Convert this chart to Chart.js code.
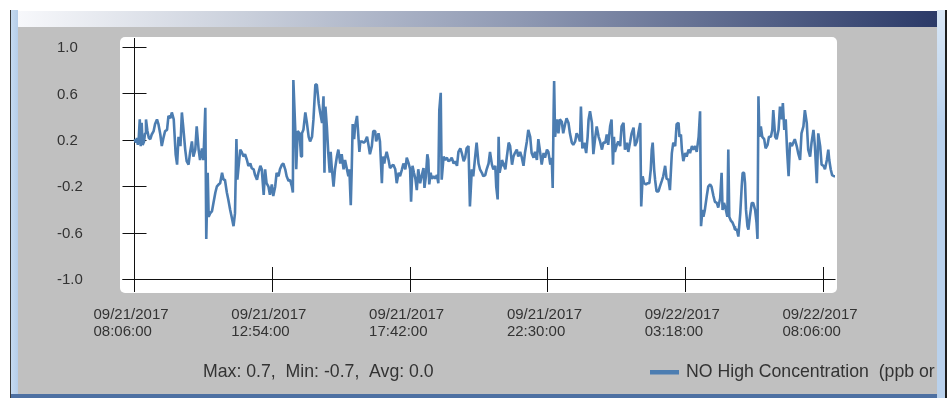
<!DOCTYPE html>
<html>
<head>
<meta charset="utf-8">
<script src="https://cdn.jsdelivr.net/npm/chart.js@4/dist/chart.umd.min.js"></script>
<style>
  html, body { margin: 0; padding: 0; background: #ffffff; }
  body { position: relative; width: 951px; height: 398px; overflow: hidden; }
  .box { position: absolute; }
  #panelGray { left: 18px; top: 27px; width: 919px; height: 367px; background: #c0c0c0; }
  #titleBar { left: 18px; top: 11px; width: 919px; height: 16px;
              background: linear-gradient(to right, #f7f8fb 0%, #c9cfdb 25%, #8e98b2 55%, #2b3a68 100%); }
  #leftEdge { left: 10px; top: 10px; width: 1px; height: 388px; background: #3a3a3a; z-index: 3; }
  #leftStrip { left: 11px; top: 10px; width: 7px; height: 388px; background: linear-gradient(to right, #c5daf0, #b5cde9); z-index: 3; }
  #rightStrip { left: 937px; top: 10px; width: 8px; height: 388px; background: linear-gradient(to bottom, #d9e7f6, #b9d1ec 30%, #b9d1ec); z-index: 3; }
  #rightEdge { left: 945px; top: 10px; width: 2px; height: 388px; background: #1e1e1e; z-index: 3; }
  #bottomLine { left: 11px; top: 394px; width: 926px; height: 4px; background: #4d70a2; z-index: 3; }
  #chart { position: absolute; left: 0; top: 0; z-index: 2; }
</style>
</head>
<body>
<div class="box" id="panelGray"></div>
<div class="box" id="titleBar"></div>
<canvas id="chart" width="951" height="398"></canvas>
<div class="box" id="leftEdge"></div>
<div class="box" id="leftStrip"></div>
<div class="box" id="rightStrip"></div>
<div class="box" id="rightEdge"></div>
<div class="box" id="bottomLine"></div>
<script>
// NO high-range concentration, minutes after 09/21/2017 08:06:00
const minutesFromStart = [
  0, 3, 5, 7, 9, 11, 13, 15, 17, 20,
  22, 24, 27, 30, 33, 36, 40, 43, 47, 50,
  54, 57, 61, 64, 68, 71, 75, 78, 82, 84,
  86, 89, 92, 96, 99, 102, 106, 109, 113, 116,
  120, 123, 127, 130, 134, 137, 141, 144, 148, 150,
  153, 155, 158, 162, 165, 169, 172, 176, 179, 183,
  186, 189, 193, 196, 200, 203, 207, 210, 213, 215,
  217, 221, 224, 228, 231, 235, 238, 242, 245, 249,
  252, 256, 259, 263, 266, 270, 273, 276, 280, 283,
  287, 290, 294, 297, 301, 304, 308, 311, 315, 318,
  322, 325, 329, 331, 332, 336, 338, 341, 345, 348,
  350, 353, 357, 360, 364, 367, 371, 374, 378, 381,
  385, 388, 392, 395, 397, 399, 402, 405, 408, 410,
  412, 416, 419, 423, 426, 430, 433, 437, 440, 444,
  447, 449, 452, 454, 456, 459, 461, 465, 467, 470,
  472, 475, 479, 482, 486, 489, 492, 496, 499, 503,
  505, 508, 510, 513, 517, 519, 522, 524, 527, 531,
  534, 538, 541, 545, 548, 552, 555, 559, 562, 566,
  569, 573, 576, 578, 581, 584, 587, 590, 593, 597,
  600, 604, 606, 609, 612, 614, 616, 619, 621, 625,
  628, 632, 635, 637, 640, 642, 646, 649, 653, 656,
  660, 663, 667, 670, 674, 677, 681, 684, 688, 691,
  694, 698, 701, 705, 708, 712, 715, 719, 722, 726,
  729, 733, 736, 740, 743, 747, 750, 754, 756, 759,
  761, 763, 766, 768, 771, 775, 778, 782, 785, 789,
  792, 795, 799, 802, 806, 809, 813, 816, 820, 823,
  827, 830, 834, 837, 841, 844, 848, 851, 855, 858,
  862, 865, 869, 872, 874, 876, 877, 879, 883, 886,
  889, 893, 896, 900, 903, 907, 910, 914, 917, 921,
  924, 928, 931, 933, 936, 940, 944, 947, 949, 952,
  956, 959, 963, 966, 970, 973, 977, 980, 984, 987,
  990, 994, 997, 1000, 1002, 1004, 1008, 1011, 1015, 1018,
  1022, 1025, 1029, 1032, 1036, 1039, 1043, 1046, 1050, 1053,
  1057, 1059, 1062, 1065, 1069, 1072, 1076, 1079, 1081, 1083,
  1086, 1088, 1091, 1095, 1098, 1102, 1105, 1109, 1112, 1116,
  1119, 1123, 1126, 1130, 1133, 1137, 1139, 1142, 1144, 1147,
  1151, 1154, 1158, 1161, 1165, 1168, 1172, 1175, 1179, 1182,
  1184, 1187, 1189, 1192, 1196, 1199, 1203, 1206, 1210, 1213,
  1217, 1220, 1224, 1227, 1229, 1232, 1236, 1239, 1241, 1243,
  1246, 1250, 1253, 1255, 1259, 1262, 1266, 1269, 1271, 1274,
  1276, 1278, 1281, 1283, 1286, 1290, 1293, 1297, 1300, 1302,
  1304, 1306, 1309, 1312, 1316, 1319, 1323, 1326, 1330, 1333,
  1335, 1339, 1342, 1346, 1349, 1353, 1355, 1358, 1361, 1364,
  1367, 1370, 1374, 1377, 1380, 1384, 1387, 1391, 1394, 1398,
  1401, 1405, 1408, 1412, 1415, 1419, 1422, 1426, 1429, 1433,
  1436, 1440, 1443, 1447, 1450, 1452, 1455, 1458, 1462, 1464
];

const noHighPpb = [
  0.21, 0.18, 0.22, 0.16, 0.23, 0.38, 0.15, 0.35, 0.16, 0.19,
  0.26, 0.38, 0.28, 0.22, 0.21, 0.25, 0.28, 0.34, 0.38, 0.34,
  0.25, 0.15, 0.23, 0.28, 0.29, 0.41, 0.39, 0.44, 0.38, 0.23,
  0.08, -0.01, 0.23, 0.15, 0.44, 0.31, 0.12, 0.02, -0.01, 0.09,
  0.19, 0.06, 0.12, 0.32, 0.12, 0.03, 0.13, 0.03, 0.48, -0.65,
  -0.08, -0.46, -0.43, -0.41, -0.34, -0.25, -0.20, -0.18, -0.17, -0.08,
  -0.14, -0.14, -0.25, -0.31, -0.40, -0.46, -0.54, -0.43, 0.21, -0.14,
  -0.05, 0.12, 0.10, 0.06, 0.08, 0.03, -0.02, 0.00, -0.04, -0.05,
  -0.10, -0.14, -0.08, -0.02, -0.05, -0.27, -0.05, -0.17, -0.20, -0.27,
  -0.18, -0.28, -0.20, -0.08, -0.11, -0.05, -0.01, 0.00, -0.05, -0.11,
  -0.15, -0.14, -0.20, -0.25, 0.72, 0.29, -0.05, 0.28, 0.26, 0.06,
  0.26, 0.29, 0.44, 0.36, 0.23, 0.19, 0.23, 0.38, 0.68, 0.68,
  0.52, 0.44, 0.35, 0.58, -0.08, 0.49, 0.32, 0.09, -0.08, 0.10,
  -0.02, -0.20, -0.05, 0.06, 0.12, 0.00, 0.08, -0.05, 0.03, -0.05,
  -0.11, -0.05, -0.36, -0.05, 0.34, 0.21, 0.32, 0.41, 0.29, 0.10,
  0.19, 0.19, 0.18, 0.19, 0.23, 0.16, 0.08, 0.15, 0.28, 0.28,
  0.19, 0.23, 0.26, 0.19, -0.17, 0.06, 0.00, 0.05, 0.10, 0.03,
  -0.04, -0.02, -0.01, -0.05, -0.17, -0.08, -0.11, -0.05, 0.00, -0.05,
  0.05, 0.00, -0.05, -0.33, -0.02, -0.08, -0.13, -0.23, -0.05, -0.17,
  -0.11, -0.04, -0.21, -0.11, 0.08, 0.03, -0.18, -0.08, -0.13, -0.11,
  -0.13, -0.10, -0.17, 0.46, 0.61, -0.14, 0.06, 0.03, 0.05, 0.02,
  0.03, 0.05, 0.00, 0.02, -0.02, 0.10, 0.13, 0.09, 0.02, 0.05,
  0.13, 0.15, -0.37, -0.05, -0.11, 0.06, 0.18, 0.00, -0.05, -0.08,
  -0.11, -0.10, -0.05, 0.00, 0.10, -0.01, -0.05, -0.02, -0.20, -0.31,
  0.23, -0.08, -0.02, 0.03, 0.00, -0.05, 0.05, 0.18, 0.15, -0.01,
  0.06, 0.09, 0.12, 0.06, 0.10, 0.06, -0.02, 0.09, 0.19, 0.29,
  0.23, 0.09, 0.05, 0.10, 0.03, 0.21, 0.09, -0.01, 0.09, 0.05,
  0.12, 0.10, -0.01, 0.05, -0.21, 0.46, 0.71, 0.23, 0.38, 0.26,
  0.38, 0.36, 0.26, 0.34, 0.39, 0.35, 0.26, 0.18, 0.16, 0.19,
  0.26, 0.23, 0.19, 0.49, 0.13, 0.18, 0.09, 0.23, 0.38, 0.45,
  0.35, 0.08, 0.23, 0.32, 0.23, 0.19, 0.12, 0.18, 0.18, 0.25,
  0.16, 0.32, 0.38, -0.01, 0.23, 0.10, 0.16, 0.19, 0.15, 0.32,
  0.35, 0.12, 0.18, 0.10, 0.19, 0.26, 0.31, 0.15, 0.19, 0.26,
  0.35, -0.37, -0.11, -0.17, -0.18, -0.17, -0.17, -0.05, 0.12, 0.18,
  -0.05, -0.14, -0.24, -0.24, -0.20, -0.15, -0.11, -0.02, -0.13, -0.14,
  -0.23, 0.09, 0.18, 0.15, 0.34, 0.35, 0.23, 0.25, 0.12, 0.02,
  0.09, 0.06, 0.12, 0.09, 0.15, 0.12, 0.15, 0.10, 0.23, 0.45,
  -0.54, -0.40, -0.46, -0.40, -0.28, -0.20, -0.18, -0.20, -0.28, -0.33,
  -0.34, -0.38, -0.30, -0.08, -0.40, -0.34, -0.40, -0.46, 0.12, -0.46,
  -0.49, -0.51, -0.54, -0.57, -0.57, -0.63, -0.43, -0.20, -0.08, -0.08,
  -0.17, -0.40, -0.54, -0.57, -0.46, -0.34, -0.34, -0.40, -0.51, -0.65,
  0.58, 0.23, 0.32, 0.23, 0.21, 0.13, 0.16, 0.23, 0.23, 0.29,
  0.46, 0.23, 0.21, 0.29, 0.49, 0.38, 0.52, 0.29, 0.38, 0.10,
  -0.11, 0.18, 0.15, 0.18, 0.21, 0.15, 0.09, 0.03, 0.26, 0.32,
  0.46, 0.35, 0.12, 0.06, 0.18, 0.29, 0.15, -0.17, 0.26, 0.15,
  -0.01, -0.02, -0.05, 0.03, 0.12, 0.03, -0.05, -0.10, -0.11, -0.11
];

// mean reported by the logger for its full one-minute record
const reportedAverage = 0.0;

const seriesLabel = 'NO High Concentration  (ppb or';
const yTickValues = [1.0, 0.6, 0.2, -0.2, -0.6, -1.0];
const xTickMinutes = [0, 288, 576, 864, 1152, 1440];
const xTickDates = ['09/21/2017', '09/21/2017', '09/21/2017', '09/21/2017', '09/22/2017', '09/22/2017'];
const xTickTimes = ['08:06:00', '12:54:00', '17:42:00', '22:30:00', '03:18:00', '08:06:00'];
const lastMinute = 1464;

const LINE_COLOR = '#4c7db1';
const TEXT_COLOR = '#333333';
const AXIS_COLOR = '#111111';
const FONT_FAMILY = '"Liberation Sans", Arial, Helvetica, sans-serif';

const points = minutesFromStart.map((m, i) => ({ x: m, y: noHighPpb[i] }));

// one decimal, without a "-0.0"
function fmt1(v) {
  const s = v.toFixed(1);
  return s === '-0.0' ? '0.0' : s;
}

const frameAndAxes = {
  id: 'frameAndAxes',
  beforeDatasetsDraw(chart) {
    const ctx = chart.ctx;
    const a = chart.chartArea;
    const xs = chart.scales.x;
    const ys = chart.scales.y;
    ctx.save();

    // white plotting panel with rounded corners
    const pl = a.left - 14.5, pt = a.top - 10.5, pr = a.right + 2, pb = a.bottom + 13.5;
    ctx.fillStyle = '#ffffff';
    ctx.beginPath();
    ctx.roundRect(pl, pt, pr - pl, pb - pt, 5);
    ctx.fill();

    const half = v => Math.round(v - 0.5) + 0.5;
    const x0 = half(xs.getPixelForValue(0));
    const yb = half(ys.getPixelForValue(-1.0));

    ctx.strokeStyle = AXIS_COLOR;
    ctx.lineWidth = 1;
    ctx.beginPath();
    ctx.moveTo(x0, a.top - 9.5);
    ctx.lineTo(x0, yb + 12.5);
    ctx.moveTo(x0 - 12, yb);
    ctx.lineTo(a.right + 0.5, yb);
    yTickValues.forEach(v => {
      const py = half(ys.getPixelForValue(v));
      ctx.moveTo(x0 - 12, py);
      ctx.lineTo(x0 + 12, py);
    });
    xTickMinutes.forEach(m => {
      const px = half(xs.getPixelForValue(m));
      ctx.moveTo(px, yb - 12.5);
      ctx.lineTo(px, yb + 12.5);
    });
    ctx.stroke();

    ctx.fillStyle = TEXT_COLOR;
    ctx.font = '15px ' + FONT_FAMILY;
    ctx.textAlign = 'left';
    ctx.textBaseline = 'middle';
    yTickValues.forEach(v => {
      const py = ys.getPixelForValue(v);
      ctx.fillText(v.toFixed(1), x0 - 77.5, py + 0.5);
    });
    ctx.textBaseline = 'alphabetic';
    xTickMinutes.forEach((m, i) => {
      const px = xs.getPixelForValue(m);
      ctx.fillText(xTickDates[i], px - 41, yb + 39);
      ctx.fillText(xTickTimes[i], px - 41, yb + 56);
    });
    ctx.restore();
  },
  afterDraw(chart) {
    const ctx = chart.ctx;
    const ds = chart.data.datasets[0];
    const vals = ds.data.map(p => p.y);
    const max = Math.max(...vals);
    const min = Math.min(...vals);
    ctx.save();
    ctx.fillStyle = TEXT_COLOR;
    ctx.font = '17.7px ' + FONT_FAMILY;
    ctx.textAlign = 'left';
    ctx.textBaseline = 'alphabetic';
    ctx.fillText('Max: ' + fmt1(max) + ',  Min: ' + fmt1(min) + ',  Avg: ' + fmt1(reportedAverage), 203, 377);

    ctx.fillStyle = ds.borderColor;
    ctx.fillRect(650, 370, 29, 4.5);
    ctx.fillStyle = TEXT_COLOR;
    ctx.fillText(ds.label, 686, 377);
    ctx.restore();
  }
};

new Chart(document.getElementById('chart'), {
  type: 'line',
  data: {
    datasets: [{
      label: seriesLabel,
      data: points,
      borderColor: LINE_COLOR,
      backgroundColor: LINE_COLOR,
      borderWidth: 2.6,
      borderJoinStyle: 'bevel',
      pointRadius: 0,
      tension: 0,
      fill: false,
      clip: false
    }]
  },
  options: {
    responsive: false,
    animation: false,
    devicePixelRatio: 1,
    layout: { padding: { left: 134.5, right: 116, top: 47.5, bottom: 118.5 } },
    scales: {
      x: { type: 'linear', min: 0, max: lastMinute, display: false },
      y: { type: 'linear', min: -1.0, max: 1.0, display: false }
    },
    plugins: {
      legend: { display: false },
      tooltip: { enabled: false }
    }
  },
  plugins: [frameAndAxes]
});
</script>
</body>
</html>
